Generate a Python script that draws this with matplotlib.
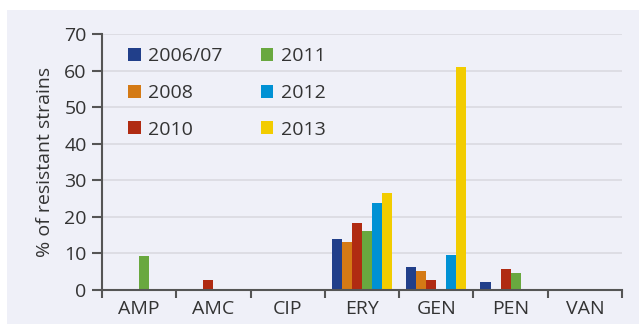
import matplotlib
matplotlib.use("Agg")
import matplotlib.pyplot as plt
import matplotlib.patches as patches
import numpy as np

plt.rcParams['font.family'] = ['Open Sans', 'DejaVu Sans']

# Antimicrobials and % of resistant strains per survey year
drugs = ["AMP", "AMC", "CIP", "ERY", "GEN", "PEN", "VAN"]
years = ["2006/07", "2008", "2010", "2011", "2012", "2013"]
colors = ["#213f8a", "#d47a15", "#b02b12", "#69a83f", "#0091d4", "#f2cc00"]

res_2006 = [0, 0, 0, 14.0, 6.3, 2.2, 0]
res_2008 = [0, 0, 0, 13.2, 5.2, 0, 0]
res_2010 = [0, 2.7, 0, 18.4, 2.7, 5.8, 0]
res_2011 = [9.3, 0, 0, 16.2, 0, 4.7, 0]
res_2012 = [0, 0, 0, 23.9, 9.6, 0, 0]
res_2013 = [0, 0, 0, 26.4, 60.9, 0, 0]
series = [res_2006, res_2008, res_2010, res_2011, res_2012, res_2013]

bg = "#eff0f8"
txt = "#333333"
axis_col = "#555555"
fs = 14

fig = plt.figure(figsize=(6.39, 3.24), dpi=100, facecolor="white")
fig.patches.append(patches.Rectangle((7 / 639, 0), 1, 1 - 10 / 324,
                                     transform=fig.transFigure,
                                     facecolor=bg, edgecolor="none", zorder=-10))
ax = fig.add_axes([102 / 639, 1 - 290 / 324, 520 / 639, 256 / 324])
ax.set_facecolor(bg)

x = np.arange(len(drugs))
w = 0.135
for i, (vals, lab, col) in enumerate(zip(series, years, colors)):
    ax.bar(x + (i - 2.5) * w, vals, width=w, color=col, label=lab, zorder=3)

ax.set_xlim(-0.5, len(drugs) - 0.5)
ax.set_ylim(0, 70)
ax.set_yticks(range(0, 71, 10))
ax.yaxis.grid(True, color="#dcdce2", linewidth=1.3, zorder=0)

ax.set_xticks(np.arange(len(drugs) + 1) - 0.5)
ax.set_xticklabels([])
ax.set_xticks(x, minor=True)
ax.set_xticklabels(drugs, minor=True)
ax.tick_params(axis="x", which="major", direction="out", length=6, width=1.5,
               color=axis_col)
ax.tick_params(axis="x", which="minor", length=0, pad=7, labelsize=fs,
               labelcolor=txt)
ax.tick_params(axis="y", direction="out", length=7, width=1.5, color=axis_col,
               pad=4, labelsize=fs, labelcolor=txt)

for s in ["top", "right"]:
    ax.spines[s].set_visible(False)
for s in ["left", "bottom"]:
    ax.spines[s].set_color(axis_col)
    ax.spines[s].set_linewidth(1.5)
    ax.spines[s].set_zorder(4)

ax.set_ylabel("% of resistant strains", fontsize=fs, color=txt, labelpad=7)

leg = ax.legend(ncol=2, loc="upper left", bbox_to_anchor=(0.035, 0.978),
                frameon=False, fontsize=fs, handlelength=0.65, handleheight=0.65,
                handletextpad=0.4, labelspacing=0.96, columnspacing=1.95,
                borderaxespad=0)
for t in leg.get_texts():
    t.set_color(txt)

fig.savefig("out.png", dpi=100, facecolor=fig.get_facecolor())
